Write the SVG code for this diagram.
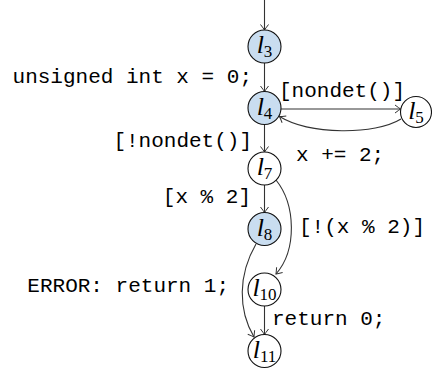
<svg xmlns="http://www.w3.org/2000/svg" width="432" height="369" viewBox="0 0 432 369">
<style>
.node circle{stroke:#111;stroke-width:1.1;fill:#fff}
.node.hl circle{fill:#c9ddf0}
.node text{font-family:"Liberation Serif",serif;font-style:italic;font-size:26px;fill:#000}
.node text tspan.sub{font-style:normal;font-size:17px}
.edge{fill:none;stroke:#333;stroke-width:1.1;marker-end:url(#arr)}
.lbl{font-family:"Liberation Mono",monospace;font-size:21px;fill:#000}
</style>
<defs>
<marker id="arr" markerUnits="userSpaceOnUse" markerWidth="12" markerHeight="12" viewBox="-7 -6 8 12" refX="0" refY="0" orient="auto">
<path d="M-5.5,-4 Q-1.5,-1 0,0 Q-1.5,1 -5.5,4" fill="none" stroke="#333" stroke-width="1"/>
</marker>
</defs>
<g id="connectors">
<path class="edge" d="M264.5,0 L264.5,30"/>
<path class="edge" d="M264.5,63 L264.5,91.5"/>
<path class="edge" d="M281,109 L400.5,109"/>
<path class="edge" d="M401,119 C375,135 310,135 279.5,116.5"/>
<path class="edge" d="M264.5,124.5 L264.5,152"/>
<path class="edge" d="M264.5,185 L264.5,212.5"/>
<path class="edge" d="M276,180 C296,205 297,250 276,274"/>
<path class="edge" d="M256,244 C238,275 238,310 254,337"/>
<path class="edge" d="M264.5,306 L264.5,334.5"/>
</g>
<g id="labels">
<text class="lbl" x="252" y="83" text-anchor="end">unsigned int x = 0;</text>
<text class="lbl" x="279" y="97">[nondet()]</text>
<text class="lbl" x="252" y="147" text-anchor="end">[!nondet()]</text>
<text class="lbl" x="296" y="161">x += 2;</text>
<text class="lbl" x="251" y="203" text-anchor="end">[x % 2]</text>
<text class="lbl" x="299" y="233">[!(x % 2)]</text>
<text class="lbl" x="229" y="292" text-anchor="end">ERROR: return 1;</text>
<text class="lbl" x="272" y="325">return 0;</text>
</g>
<g id="l3" class="node hl"><circle cx="264.5" cy="46.5" r="16.5"/><text x="264.5" y="53" text-anchor="middle">l<tspan class="sub" dy="4">3</tspan></text></g>
<g id="l4" class="node hl"><circle cx="264.5" cy="108" r="16.5"/><text x="264.5" y="114.5" text-anchor="middle">l<tspan class="sub" dy="4">4</tspan></text></g>
<g id="l5" class="node"><circle cx="416" cy="112" r="15.5"/><text x="416" y="118.5" text-anchor="middle">l<tspan class="sub" dy="4">5</tspan></text></g>
<g id="l7" class="node"><circle cx="264.5" cy="168.5" r="16.5"/><text x="264.5" y="175" text-anchor="middle">l<tspan class="sub" dy="4">7</tspan></text></g>
<g id="l8" class="node hl"><circle cx="264.5" cy="229" r="16.5"/><text x="264.5" y="235.5" text-anchor="middle">l<tspan class="sub" dy="4">8</tspan></text></g>
<g id="l10" class="node"><circle cx="264.5" cy="289.5" r="16.5"/><text x="264.5" y="296" text-anchor="middle">l<tspan class="sub" dy="4">10</tspan></text></g>
<g id="l11" class="node"><circle cx="264.5" cy="351" r="16.5"/><text x="264.5" y="357.5" text-anchor="middle">l<tspan class="sub" dy="4">11</tspan></text></g>
</svg>
